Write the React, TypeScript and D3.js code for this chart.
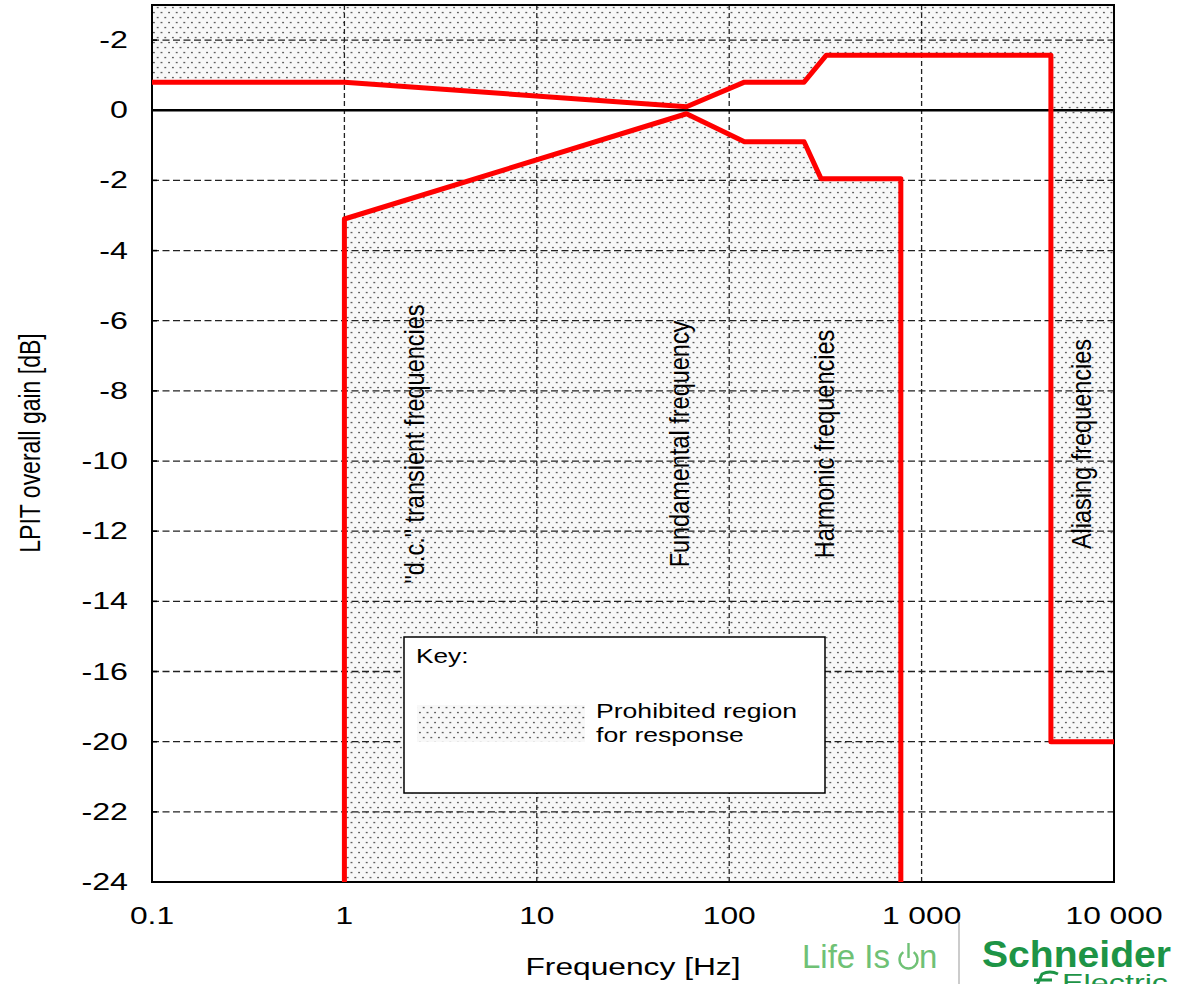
import React from 'react';
import * as d3 from 'd3';

// upper tolerance limit (frequency in Hz, gain in dB)
const upperFreq = [0.1, 1, 60, 120, 245, 320, 4700, 4700, 10000];
const upperGain = [0.8, 0.8, 0.1, 0.8, 0.8, 1.57, 1.57, -18, -18];
// lower tolerance limit
const lowerFreq = [1, 1, 60, 120, 245, 300, 780, 780];
const lowerGain = [-22, -3.1, -0.1, -0.9, -0.9, -1.95, -1.95, -22];

const xTicks = [0.1, 1, 10, 100, 1000, 10000];
const xTickLabels = ['0.1', '1', '10', '100', '1 000', '10 000'];
const yTicks = [2, 0, -2, -4, -6, -8, -10, -12, -14, -16, -18, -20, -22];
const yTickLabels = ['-2', '0', '-2', '-4', '-6', '-8', '-10', '-12', '-14', '-16', '-20', '-22', '-24'];

const bandLabels = ['"d.c." transient frequencies', 'Fundamental frequency', 'Harmonic frequencies', 'Aliasing frequencies'];
const bandFreq = [2.6, 62, 350, 7600];

const FONT = '"Liberation Sans", Arial, sans-serif';

type TProps = {
  x: number; y: number; sx?: number; size: number; anchor?: string;
  rotate?: boolean; fill?: string; weight?: string | number; children: React.ReactNode;
};

// text stretched horizontally like the source picture
function SText({ x, y, sx = 1.38, size, anchor = 'start', rotate = false, fill = '#000', weight = 'normal', children }: TProps) {
  return (
    <text
      transform={`translate(${x},${y}) scale(${sx},1)${rotate ? ' rotate(-90)' : ''}`}
      fontSize={size}
      fontFamily={FONT}
      textAnchor={anchor}
      fill={fill}
      fontWeight={weight}
    >
      {children}
    </text>
  );
}

export default function App() {
  const width = 1184;
  const height = 984;
  const left = 152, right = 1114, top = 5, bottom = 882;

  const x = d3.scaleLog().domain([0.1, 10000]).range([left, right]);
  const y = d3.scaleLinear().domain([-22, 3]).range([bottom, top]);

  const upper = upperFreq.map((f, i) => ({ f, g: upperGain[i] }));
  const lower = lowerFreq.map((f, i) => ({ f, g: lowerGain[i] }));

  const line = d3.line<{ f: number; g: number }>().x(d => x(d.f)).y(d => y(d.g));
  const upperArea = d3.area<{ f: number; g: number }>().x(d => x(d.f)).y0(top).y1(d => y(d.g));
  const lowerArea = d3.area<{ f: number; g: number }>().x(d => x(d.f)).y0(bottom).y1(d => y(d.g));

  return (
    <svg width={width} height={height} style={{ position: 'absolute', left: 0, top: 0, background: '#fff' }}>
      <defs>
        <pattern id="stipple" patternUnits="userSpaceOnUse" width={7.6} height={10}>
          <rect width={7.6} height={10} fill="#f8f8f8" />
          <circle cx={1.9} cy={2.5} r={0.85} fill="#3a3a3a" />
          <circle cx={5.7} cy={7.5} r={0.85} fill="#3a3a3a" />
        </pattern>
      </defs>

      {/* prohibited regions */}
      <path d={upperArea(upper) ?? ''} fill="url(#stipple)" />
      <path d={lowerArea(lower) ?? ''} fill="url(#stipple)" />

      {/* grid */}
      {yTicks.filter(t => t !== 0 && t > -22).map(t => (
        <line key={`gy${t}`} x1={left} x2={right} y1={y(t)} y2={y(t)} stroke="#222" strokeWidth={1.3} strokeDasharray="7,3.5" />
      ))}
      {xTicks.slice(1, -1).map(t => (
        <line key={`gx${t}`} x1={x(t)} x2={x(t)} y1={top} y2={bottom} stroke="#222" strokeWidth={1.3} strokeDasharray="5,3" />
      ))}
      <line x1={left} x2={right} y1={y(0)} y2={y(0)} stroke="#000" strokeWidth={2.5} />

      {/* frame and ticks */}
      <rect x={left} y={top} width={right - left} height={bottom - top} fill="none" stroke="#000" strokeWidth={2} />
      {yTicks.map(t => (
        <line key={`ty${t}`} x1={left} x2={left + 5} y1={y(t)} y2={y(t)} stroke="#000" strokeWidth={1.5} />
      ))}

      {/* key */}
      <rect x={404} y={637} width={421} height={156} fill="#fff" stroke="#000" strokeWidth={1.5} />
      <SText x={416} y={663} size={21} sx={1.25}>Key:</SText>
      <rect x={417} y={705} width={168} height={37} fill="url(#stipple)" />
      <SText x={596} y={718} size={20} sx={1.33}>Prohibited region</SText>
      <SText x={596} y={742} size={20} sx={1.33}>for response</SText>

      {/* limits */}
      <path d={line(upper) ?? ''} fill="none" stroke="#ff0000" strokeWidth={5} strokeLinejoin="round" />
      <path d={line(lower) ?? ''} fill="none" stroke="#ff0000" strokeWidth={5} strokeLinejoin="round" />

      {/* band labels */}
      {bandLabels.map((lab, i) => (
        <SText key={lab} x={x(bandFreq[i])} y={444} size={23.5} sx={1.2} rotate anchor="middle">{lab}</SText>
      ))}

      {/* axis tick labels */}
      {yTicks.map((t, i) => (
        <SText key={`ly${t}`} x={128} y={y(t) + 8} size={23} sx={1.4} anchor="end">{yTickLabels[i]}</SText>
      ))}
      {xTicks.map((t, i) => (
        <SText key={`lx${t}`} x={x(t)} y={924} size={23} sx={1.38} anchor="middle">{xTickLabels[i]}</SText>
      ))}

      {/* axis titles */}
      <SText x={40} y={443} size={23} sx={1.25} rotate anchor="middle">LPIT overall gain [dB]</SText>
      <SText x={633} y={975} size={23} sx={1.38} anchor="middle">Frequency [Hz]</SText>

      {/* logo */}
      <text x={802} y={968} fontSize={33} fontFamily={FONT} fill="#6fc175">Life Is</text>
      <path d="M903.34,952.13 A9,9 0 1 0 913.66,952.13" fill="none" stroke="#6fc175" strokeWidth={2.4} />
      <line x1={908.5} x2={908.5} y1={943} y2={958} stroke="#6fc175" strokeWidth={2.4} />
      <text x={919} y={968} fontSize={33} fontFamily={FONT} fill="#6fc175">n</text>
      <line x1={959} x2={959} y1={922} y2={984} stroke="#bbb" strokeWidth={1.5} />
      <text x={982} y={967} fontSize={37} fontWeight="bold" fontFamily={FONT} fill="#1d9446" textLength={189} lengthAdjust="spacingAndGlyphs">Schneider</text>
      <path d="M1036,988 L1042,974 Q1050,970 1058,974 M1034,980 L1052,980 M1032,986 L1048,986" fill="none" stroke="#1d9446" strokeWidth={3} />
      <text x={1062} y={991} fontSize={24} fontFamily={FONT} fill="#1d9446" textLength={106} lengthAdjust="spacingAndGlyphs">Electric</text>
    </svg>
  );
}
